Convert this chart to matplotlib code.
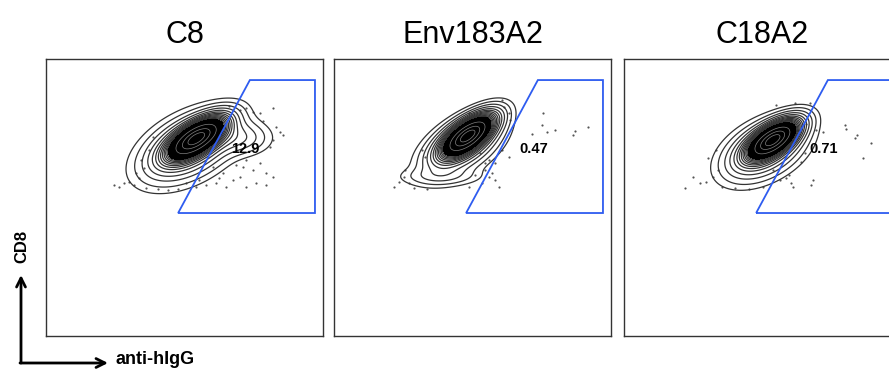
import numpy as np
import matplotlib.pyplot as plt
from matplotlib.patches import Polygon

plt.rcParams['font.family'] = ['Liberation Sans', 'DejaVu Sans']

titles = ["C8", "Env183A2", "C18A2"]
gate_pct = ["12.9", "0.47", "0.71"]

# gate polygon (axis units 0-100), same for all panels
gate_x = [47.7, 73.6, 97.1, 97.1]
gate_y = [44.4, 92.4, 92.4, 44.4]

# populations: (x, y, sd major, sd minor, angle deg, weight)
pops = [
    [(54.5, 71.5, 7.0, 3.0, 32, 1.0),
     (51.5, 68.0, 10.5, 5.8, 28, 0.22),
     (70.0, 71.5, 6.5, 3.6, 0, 0.07)],
    [(48.5, 72.5, 6.5, 2.8, 36, 1.0),
     (46.0, 68.5, 9.0, 4.8, 32, 0.18),
     (38.5, 57.5, 9.0, 2.0, 0, 0.035)],
    [(54.0, 71.0, 6.2, 2.8, 33, 1.0),
     (50.5, 67.0, 9.0, 5.2, 28, 0.2)],
]

# sparse events outside the contours (axis units 0-100)
dots = [
    [(24.7, 54.5), (26.5, 53.9), (28.3, 55.1), (30.1, 55.7), (31.9, 54.5), (33.7, 56.9),
     (32.5, 58.7), (34.3, 63.5), (38.6, 71.9), (37.3, 67.1), (69.9, 81.6), (72.3, 82.2),
     (74.7, 81.0), (77.1, 80.4), (81.9, 82.2), (83.1, 75.5), (84.3, 73.7), (85.5, 72.5),
     (81.9, 70.7), (80.7, 68.3), (77.1, 62.3), (74.7, 59.9), (71.1, 61.1), (69.9, 57.5),
     (67.5, 56.3), (65.1, 53.9), (61.4, 55.1), (57.8, 54.5), (55.4, 56.3), (54.2, 53.9),
     (60.2, 61.1), (75.9, 55.1), (79.5, 54.5), (81.9, 57.5), (72.3, 53.9), (50.6, 55.1),
     (63.9, 58.7), (72.3, 63.5), (68.7, 61.7), (79.5, 58.7), (36.0, 53.5), (40.5, 53.2),
     (44.0, 52.8), (47.5, 53.1), (35.2, 60.5), (66.0, 83.0), (78.5, 77.5), (62.5, 57.0)],
    [(21.6, 53.9), (23.4, 55.7), (25.2, 57.5), (27.0, 55.1), (25.8, 59.9), (31.8, 67.1),
     (33.0, 64.7), (48.6, 80.4), (60.6, 85.2), (61.2, 82.8), (63.0, 80.4), (63.6, 78.0),
     (55.8, 63.5), (58.2, 62.3), (54.6, 59.9), (51.0, 58.1), (53.4, 55.1), (59.4, 53.9),
     (58.2, 56.3), (48.6, 53.9), (75.6, 80.4), (75.0, 76.1), (76.8, 73.7), (79.8, 74.3),
     (87.0, 74.1), (86.4, 72.5), (91.6, 75.5), (71.4, 73.1), (63.0, 64.7), (60.6, 67.1),
     (52.8, 65.9), (54.6, 62.3), (29.0, 53.5), (33.5, 53.2), (57.0, 59.0), (56.0, 57.5)],
    [(21.9, 53.3), (24.9, 57.5), (27.3, 55.1), (29.7, 55.7), (30.3, 64.1), (33.3, 67.1),
     (33.9, 59.9), (55.0, 83.4), (61.6, 84.0), (67.0, 84.0), (65.8, 76.7), (69.4, 74.3),
     (71.8, 73.7), (79.7, 76.1), (80.3, 74.9), (83.3, 71.3), (84.2, 72.5), (89.3, 69.5),
     (86.3, 64.1), (68.2, 56.3), (67.6, 54.5), (60.4, 55.1), (58.6, 56.9), (56.2, 56.3),
     (53.8, 59.9), (64.0, 62.9), (65.2, 65.9), (61.0, 53.9), (50.2, 53.9), (35.5, 53.8),
     (40.0, 53.5), (45.0, 53.2), (32.0, 57.5), (59.5, 58.0)],
]

g = np.linspace(0, 100, 400)
X, Y = np.meshgrid(g, g)


def density(comps):
    Z = np.zeros_like(X)
    for cx, cy, a, b, ang, w in comps:
        t = np.deg2rad(ang)
        u = (X - cx) * np.cos(t) + (Y - cy) * np.sin(t)
        v = -(X - cx) * np.sin(t) + (Y - cy) * np.cos(t)
        Z += w * np.exp(-0.5 * ((u / a) ** 2 + (v / b) ** 2))
    return Z


fig = plt.figure(figsize=(8.89, 3.71), dpi=100)
lefts = [46, 334, 624]
for i in range(3):
    ax = fig.add_axes([lefts[i] / 889, 35 / 371, 277 / 889, 277 / 371])
    Z = density(pops[i])
    zmax = Z.max()
    levels = np.concatenate([[0.012, 0.025, 0.045], np.linspace(0.07, 0.34, 10)]) * zmax
    ax.contour(X, Y, Z, levels=levels, colors='#333333', linewidths=0.9)
    # dense core reads as solid black
    ax.contourf(X, Y, Z, levels=[0.34 * zmax, 1.01 * zmax], colors=['black'], zorder=3)
    ax.contour(X, Y, Z, levels=[0.55 * zmax, 0.75 * zmax, 0.9 * zmax], colors='#808080',
               linewidths=0.5, zorder=4)
    dx, dy = zip(*dots[i])
    ax.scatter(dx, dy, s=2.5, c='#555555', lw=0)
    ax.add_patch(Polygon(list(zip(gate_x, gate_y)), closed=True, fill=False,
                         ec='#2e5cf0', lw=1.3, zorder=5))
    ax.text(72, 67.5, gate_pct[i], ha='center', va='center',
            fontsize=10.5, fontweight='bold', zorder=6)
    ax.set_xlim(0, 100)
    ax.set_ylim(0, 100)
    ax.set_xticks([])
    ax.set_yticks([])
    for s in ax.spines.values():
        s.set_color('#333333')
        s.set_linewidth(1.0)
    ax.text(0.5, 1.0 + 18 / 277 + 0.02, titles[i], transform=ax.transAxes,
            ha='center', va='center', fontsize=22)

# axis arrows
arr = dict(arrowstyle='->', lw=2, color='black', mutation_scale=16, shrinkA=0, shrinkB=0)
plt.annotate('', xy=(21, 96), xytext=(21, 8), xycoords='figure pixels',
             textcoords='figure pixels', arrowprops=arr)
plt.annotate('', xy=(108, 8), xytext=(20, 8), xycoords='figure pixels',
             textcoords='figure pixels', arrowprops=arr)
fig.text(22 / 889, 125 / 371, 'CD8', rotation=90, ha='center', va='center',
         fontsize=12, fontweight='bold')
fig.text(116 / 889, 11 / 371, 'anti-hIgG', ha='left', va='center',
         fontsize=13, fontweight='bold')

fig.savefig('out.png', dpi=100)
